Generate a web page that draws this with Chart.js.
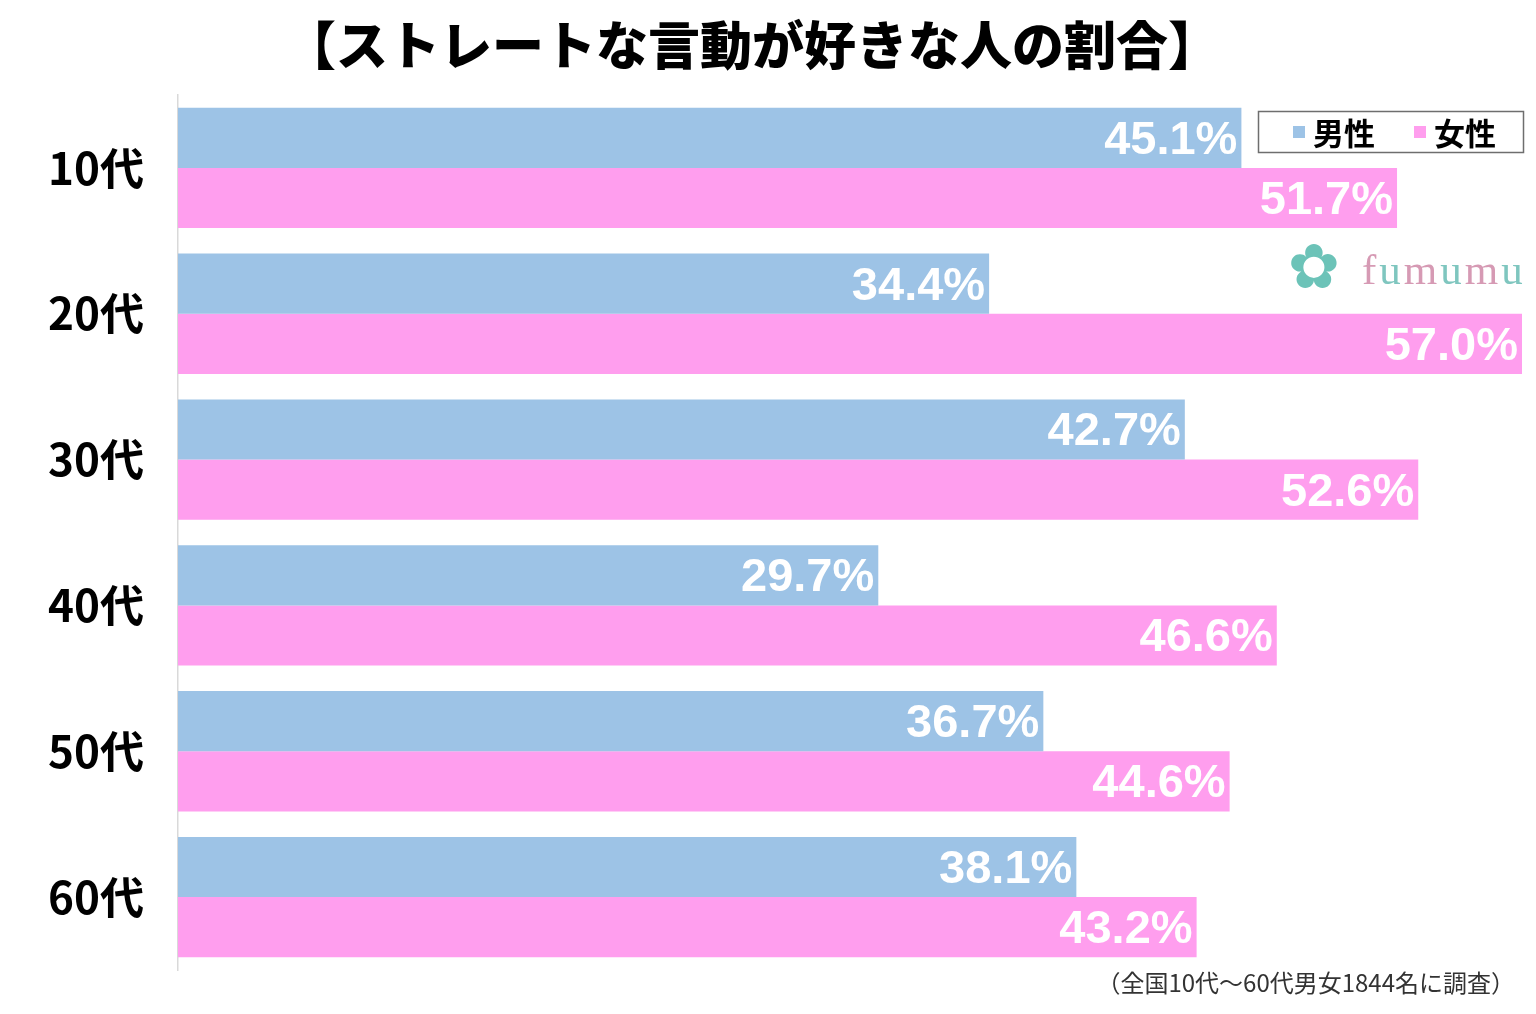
<!DOCTYPE html>
<html><head><meta charset="utf-8">
<script src="https://cdn.jsdelivr.net/npm/chart.js@4/dist/chart.umd.min.js"></script>
<style>html,body{margin:0;padding:0;background:#fff}#wrap{width:1536px;height:1014px;position:relative}</style>
</head><body><div id="wrap"><canvas id="c" width="1536" height="1014"></canvas></div>
<script>
const titleText = '【ストレートな言動が好きな人の割合】';
const categories = ['10代','20代','30代','40代','50代','60代'];
const seriesNames = ['男性','女性'];
const maleValues = [45.1, 34.4, 42.7, 29.7, 36.7, 38.1];
const femaleValues = [51.7, 57.0, 52.6, 46.6, 44.6, 43.2];
const footnote = '（全国10代～60代男女1844名に調査）';
const watermark = 'fumumu';

const BLUE = '#9dc3e6', PINK = '#ff9eee';
const JP = '"Noto Sans CJK JP", "Noto Sans", sans-serif';

const extras = {
  id: 'extras',
  afterDatasetsDraw(chart) {
    const ctx = chart.ctx;
    ctx.save();
    chart.data.datasets.forEach((ds, di) => {
      chart.getDatasetMeta(di).data.forEach((bar, i) => {
        ctx.font = 'bold 47px "Liberation Sans", Arial, sans-serif';
        ctx.fillStyle = '#ffffff';
        ctx.textAlign = 'right';
        ctx.textBaseline = 'middle';
        ctx.fillText(ds.data[i].toFixed(1) + '%', bar.x - 4, bar.y + 3);
      });
    });
    ctx.restore();
  },
  afterDraw(chart) {
    const ctx = chart.ctx;
    ctx.save();
    // title
    ctx.font = '900 52px ' + JP;
    ctx.fillStyle = '#000';
    ctx.textAlign = 'center';
    ctx.textBaseline = 'middle';
    ctx.fillText(titleText, 752, 45);
    // legend
    ctx.fillStyle = '#fff';
    ctx.fillRect(1258, 111, 266, 42);
    ctx.strokeStyle = '#6e6e6e';
    ctx.lineWidth = 1.5;
    ctx.strokeRect(1258.5, 111.5, 265, 41);
    const cols = [BLUE, PINK];
    const xs = [1293, 1414];
    ctx.font = 'bold 31px ' + JP;
    ctx.textAlign = 'left';
    seriesNames.forEach((n, k) => {
      ctx.fillStyle = cols[k];
      ctx.fillRect(xs[k], 126, 12, 12);
      ctx.fillStyle = '#000';
      ctx.fillText(n, xs[k] + 20, 133);
    });
    // watermark
    ctx.font = '62px "DejaVu Sans"';
    ctx.fillStyle = '#6cc3b8';
    ctx.fillText('✿', 1288, 272);
    ctx.font = '43px "Liberation Serif", serif';
    const wcols = ['#d69ab4','#7fc6bf','#d69ab4','#7fc6bf','#d69ab4','#7fc6bf'];
    let wx = 1362;
    for (let k = 0; k < watermark.length; k++) {
      ctx.fillStyle = wcols[k];
      ctx.fillText(watermark[k], wx, 273);
      wx += ctx.measureText(watermark[k]).width + 3;
    }
    // footnote
    ctx.font = '24px ' + JP;
    ctx.fillStyle = '#333';
    ctx.textAlign = 'right';
    ctx.fillText(footnote, 1515, 983);
    ctx.restore();
  }
};

new Chart(document.getElementById('c'), {
  type: 'bar',
  data: {
    labels: categories,
    datasets: [
      { label: seriesNames[0], data: maleValues, backgroundColor: BLUE, barPercentage: 1.0, categoryPercentage: 0.825 },
      { label: seriesNames[1], data: femaleValues, backgroundColor: PINK, barPercentage: 1.0, categoryPercentage: 0.825 }
    ]
  },
  options: {
    indexAxis: 'y',
    responsive: false,
    animation: false,
    layout: { padding: { top: 95, bottom: 44, right: 14, left: 0 } },
    plugins: { legend: { display: false }, title: { display: false }, tooltip: { enabled: false } },
    scales: {
      x: { display: false, min: 0, max: 57 },
      y: {
        afterFit(s) { s.width = 178; s.paddingTop = 0; s.paddingBottom = 0; },
        grid: { display: false, drawTicks: false },
        border: { display: true, color: '#d9d9d9', width: 1.5 },
        ticks: { color: '#000', padding: 34, font: { family: JP, size: 44, weight: 'bold' } }
      }
    }
  },
  plugins: [extras]
});
</script></body></html>
